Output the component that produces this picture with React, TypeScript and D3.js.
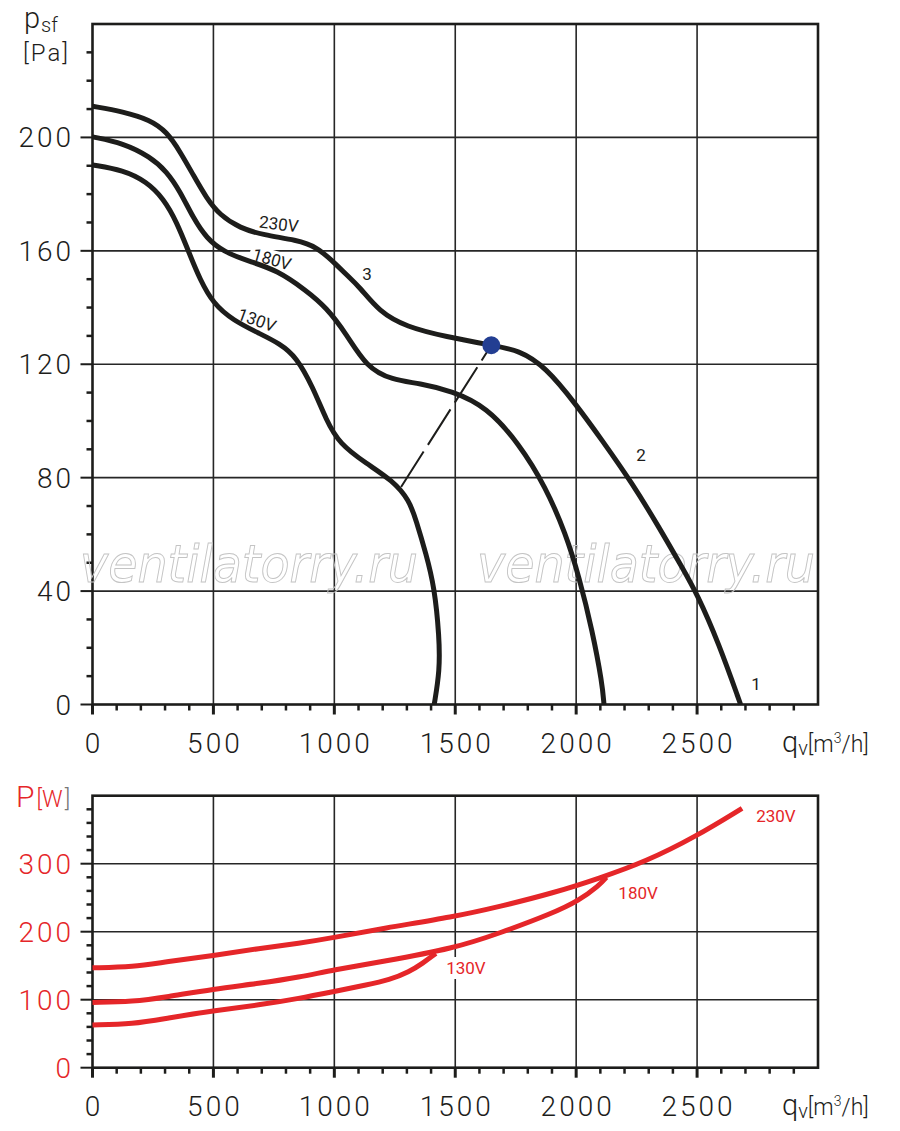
import React, { useEffect, useRef } from 'react';
import * as d3 from 'd3';

// Static pressure curves: q [m3/h] -> psf [Pa]
const q230 = [0, 127, 238, 307, 362, 417, 472, 527, 610, 706, 844, 927, 1010, 1051, 1104, 1186, 1297, 1462, 1649, 1764, 1874, 1998, 2107, 2232, 2342, 2437, 2500, 2590, 2680];
const p230 = [211, 209.1, 206.2, 202, 195, 186.7, 178.5, 172.6, 168, 165.6, 163.8, 161.5, 155, 151.5, 147.3, 138.5, 133.2, 129.7, 126.7, 125, 119, 106, 93.2, 78, 62.6, 48.5, 39, 21.5, 0];

const q180 = [0, 127, 238, 307, 362, 417, 472, 541, 651, 762, 884, 967, 1049, 1132, 1240, 1352, 1488, 1629, 1764, 1874, 1957, 2012, 2067, 2108, 2115];
const p180 = [200.2, 198, 193.2, 188, 181, 171.5, 164.4, 159.7, 156.2, 153.2, 146, 140, 130.8, 119, 114.4, 113.3, 110.5, 105, 92, 76.7, 60.2, 45, 26, 7.3, 0];

const q130 = [0, 127, 224, 293, 348, 403, 444, 499, 581, 691, 774, 843, 911, 967, 1021, 1132, 1241, 1310, 1338, 1379, 1414, 1434, 1436, 1413];
const p130 = [190.3, 188.5, 184.4, 178.5, 170.3, 158.5, 150, 141.4, 135.5, 130.8, 127.3, 122.6, 112, 100.2, 92, 85, 79, 72, 65, 53.2, 41.4, 23.8, 12, 0];

// Power curves: q [m3/h] -> P [W]
const wq230 = [0, 168, 306, 499, 691, 856, 994, 1200, 1496, 1682, 1902, 2095, 2287, 2494, 2686];
const w230 = [147, 148, 156, 164.7, 175.6, 183, 191, 205, 222, 236.8, 256.5, 278.5, 303, 339.7, 381.5];

const wq180 = [0, 168, 306, 499, 691, 856, 994, 1200, 1496, 1682, 1902, 2012, 2095, 2125];
const w180 = [96, 97, 104, 115.7, 124, 133, 143.7, 156, 175.6, 197.6, 227, 246, 268, 280];

const wq130 = [0, 168, 306, 499, 691, 856, 994, 1132, 1228, 1310, 1365, 1420];
const w130 = [62.8, 64, 72.6, 83.8, 92.2, 102, 111.8, 121.6, 129, 141, 153.5, 168];

// working point and dashed system line
const workQ = [1276, 1649];
const workP = [76.7, 126.7];

const qTicks = [0, 500, 1000, 1500, 2000, 2500];
const pTicks = [0, 40, 80, 120, 160, 200];
const wTicks = [0, 100, 200, 300];

const curveLabels = [
  { text: '230V', q: 771, p: 169.5, rot: 7, bg: false },
  { text: '180V', q: 742, p: 157.1, rot: 16, bg: true },
  { text: '130V', q: 680, p: 135.6, rot: 20, bg: false },
  { text: '3', q: 1135, p: 151.8, rot: 0, bg: false },
  { text: '2', q: 2268, p: 88, rot: 0, bg: false },
  { text: '1', q: 2744, p: 7.2, rot: 0, bg: false },
];

const powerLabels = [
  { text: '230V', q: 2826, w: 370, bg: false },
  { text: '180V', q: 2256, w: 257, bg: false },
  { text: '130V', q: 1544, w: 146.6, bg: true },
];

const INK = '#1d1d1b';
const GRID = '#262626';
const RED = '#e52629';
const FONT = 'Roboto, "DejaVu Sans", sans-serif';

const App: React.FC = () => {
  const ref = useRef<SVGSVGElement>(null);

  useEffect(() => {
    if (!ref.current) return;
    const svg = d3.select(ref.current);
    svg.selectAll('*').remove();

    const x = d3.scaleLinear().domain([0, 3000]).range([92.5, 818]);
    const yTop = d3.scaleLinear().domain([0, 240]).range([704.5, 24]);
    const yBot = d3.scaleLinear().domain([0, 400]).range([1067.7, 795.7]);

    const line = (ys: d3.ScaleLinear<number, number>) =>
      d3.line<[number, number]>()
        .x(d => x(d[0]))
        .y(d => ys(d[1]))
        .curve(d3.curveBasis);

    const toPts = (qs: number[], vs: number[]) => qs.map((q, i) => [q, vs[i]] as [number, number]);

    // generic panel: grid, frame, ticks, labels
    const panel = (
      ys: d3.ScaleLinear<number, number>,
      yMax: number,
      yMajor: number[],
      yMinorStep: number,
      labelColor: string
    ) => {
      const g = svg.append('g');
      const [y0, y1] = ys.range();

      // grid
      g.selectAll('.vg')
        .data(qTicks.filter(d => d > 0))
        .join('line')
        .attr('x1', d => x(d)).attr('x2', d => x(d))
        .attr('y1', y0).attr('y2', y1)
        .attr('stroke', GRID).attr('stroke-width', 1.6);
      g.selectAll('.hg')
        .data(yMajor.filter(d => d > 0))
        .join('line')
        .attr('x1', x(0)).attr('x2', x(3000))
        .attr('y1', d => ys(d)).attr('y2', d => ys(d))
        .attr('stroke', GRID).attr('stroke-width', 1.6);

      // minor + major ticks on y
      const yMinor = d3.range(yMinorStep, yMax, yMinorStep).filter(v => !yMajor.includes(v));
      g.selectAll('.ymin')
        .data(yMinor)
        .join('line')
        .attr('x1', x(0) - 6).attr('x2', x(0))
        .attr('y1', d => ys(d)).attr('y2', d => ys(d))
        .attr('stroke', INK).attr('stroke-width', 2.5);
      g.selectAll('.ymaj')
        .data(yMajor)
        .join('line')
        .attr('x1', x(0) - 12).attr('x2', x(0))
        .attr('y1', d => ys(d)).attr('y2', d => ys(d))
        .attr('stroke', INK).attr('stroke-width', 2);

      // ticks on x
      const xMinor = d3.range(100, 3000, 100).filter(v => v % 500 !== 0);
      g.selectAll('.xmin')
        .data(xMinor)
        .join('line')
        .attr('x1', d => x(d)).attr('x2', d => x(d))
        .attr('y1', y0).attr('y2', y0 + 6)
        .attr('stroke', INK).attr('stroke-width', 2.5);
      g.selectAll('.xmaj')
        .data(qTicks)
        .join('line')
        .attr('x1', d => x(d)).attr('x2', d => x(d))
        .attr('y1', y0).attr('y2', y0 + 10)
        .attr('stroke', INK).attr('stroke-width', 3);

      // frame
      g.append('rect')
        .attr('x', x(0)).attr('y', y1)
        .attr('width', x(3000) - x(0)).attr('height', y0 - y1)
        .attr('fill', 'none').attr('stroke', INK).attr('stroke-width', 2.6);

      // tick labels
      g.selectAll('.ylab')
        .data(yMajor)
        .join('text')
        .attr('x', 74)
        .attr('y', d => ys(d) + 10)
        .attr('text-anchor', 'end')
        .style('font-family', FONT)
        .style('font-weight', 300)
        .style('font-size', '28px')
        .style('letter-spacing', '3px')
        .attr('fill', labelColor)
        .text(d => d);
      g.selectAll('.xlab')
        .data(qTicks)
        .join('text')
        .attr('x', d => x(d) + 1.5)
        .attr('y', y0 + 48)
        .attr('text-anchor', 'middle')
        .style('font-family', FONT)
        .style('font-weight', 300)
        .style('font-size', '28px')
        .style('letter-spacing', '3px')
        .attr('fill', INK)
        .text(d => d);

      // q axis title
      const qt = g.append('text')
        .attr('x', 782).attr('y', y0 + 47)
        .style('font-family', FONT)
        .style('font-weight', 300)
        .attr('fill', INK);
      qt.append('tspan').style('font-size', '29px').text('q');
      qt.append('tspan').style('font-size', '20px').attr('dy', 3).text('v');
      qt.append('tspan').style('font-size', '23px').attr('dy', -3).text('[m');
      qt.append('tspan').style('font-size', '14px').attr('dy', -9).text('3');
      qt.append('tspan').style('font-size', '23px').attr('dy', 9).text('/h]');

      return g;
    };

    // ---------- top: pressure ----------
    const top = panel(yTop, 240, pTicks, 10, INK);

    // watermark
    [80, 477].forEach(sx => {
      top.append('text')
        .attr('x', sx).attr('y', 582)
        .attr('textLength', 338)
        .attr('lengthAdjust', 'spacingAndGlyphs')
        .style('font-family', '"DejaVu Sans", sans-serif')
        .style('font-style', 'italic')
        .style('font-size', '52px')
        .attr('fill', 'none')
        .attr('stroke', '#c4c4c4')
        .attr('stroke-width', 1)
        .text('ventilatorry.ru');
    });

    // white boxes that break the grid under some labels (drawn below the curves)
    curveLabels.filter(l => l.bg).forEach(l => {
      top.append('rect')
        .attr('transform', `translate(${x(l.q)},${yTop(l.p)}) rotate(${l.rot})`)
        .attr('x', -23).attr('y', -9).attr('width', 46).attr('height', 18)
        .attr('fill', '#fff');
    });

    const pCurves: [number[], number[]][] = [[q230, p230], [q180, p180], [q130, p130]];
    top.selectAll('.pc')
      .data(pCurves)
      .join('path')
      .attr('d', d => line(yTop)(toPts(d[0], d[1])))
      .attr('fill', 'none')
      .attr('stroke', INK)
      .attr('stroke-width', 5)
      .attr('stroke-linejoin', 'round');

    // system line and working point
    top.append('line')
      .attr('x1', x(workQ[0])).attr('y1', yTop(workP[0]))
      .attr('x2', x(workQ[1])).attr('y2', yTop(workP[1]))
      .attr('stroke', INK).attr('stroke-width', 2)
      .attr('stroke-dasharray', '42,8');
    top.append('circle')
      .attr('cx', x(workQ[1])).attr('cy', yTop(workP[1]))
      .attr('r', 9)
      .attr('fill', '#233e92');

    // curve labels
    curveLabels.forEach(l => {
      top.append('text')
        .attr('transform', `translate(${x(l.q)},${yTop(l.p)}) rotate(${l.rot})`)
        .attr('text-anchor', 'middle')
        .attr('dy', '0.36em')
        .style('font-family', FONT)
        .style('font-size', '17px')
        .attr('fill', INK)
        .text(l.text);
    });

    // p axis title
    const pt = top.append('text')
      .attr('x', 24).attr('y', 28)
      .style('font-family', FONT)
      .style('font-weight', 300)
      .attr('fill', INK);
    pt.append('tspan').style('font-size', '29px').text('p');
    pt.append('tspan').style('font-size', '20px').attr('dy', 4).attr('dx', 1).text('sf');
    top.append('text')
      .attr('x', 23).attr('y', 61)
      .style('font-family', FONT)
      .style('font-weight', 300)
      .style('font-size', '24px')
      .style('letter-spacing', '2px')
      .attr('fill', INK)
      .text('[Pa]');

    // ---------- bottom: power ----------
    const bot = panel(yBot, 400, wTicks, 20, RED);

    powerLabels.filter(l => l.bg).forEach(l => {
      bot.append('rect')
        .attr('transform', `translate(${x(l.q)},${yBot(l.w)})`)
        .attr('x', -22).attr('y', -11).attr('width', 44).attr('height', 22)
        .attr('fill', '#fff');
    });

    const wCurves: [number[], number[]][] = [[wq230, w230], [wq180, w180], [wq130, w130]];
    bot.selectAll('.wc')
      .data(wCurves)
      .join('path')
      .attr('d', d => line(yBot)(toPts(d[0], d[1])))
      .attr('fill', 'none')
      .attr('stroke', RED)
      .attr('stroke-width', 5)
      .attr('stroke-linejoin', 'round');

    powerLabels.forEach(l => {
      bot.append('text')
        .attr('transform', `translate(${x(l.q)},${yBot(l.w)})`)
        .attr('text-anchor', 'middle')
        .attr('dy', '0.36em')
        .style('font-family', FONT)
        .style('font-size', '17px')
        .attr('fill', RED)
        .text(l.text);
    });

    const wt = bot.append('text')
      .attr('x', 16).attr('y', 807)
      .style('font-family', FONT)
      .style('font-weight', 300)
      .attr('fill', RED);
    wt.append('tspan').style('font-size', '30px').text('P');
    wt.append('tspan').style('font-size', '23px').attr('dx', 2).text('[W');
    wt.append('tspan').style('font-size', '23px').attr('dx', 2).attr('fill', '#777').text(']');
  }, []);

  return (
    <svg
      ref={ref}
      width={900}
      height={1131}
      style={{ position: 'absolute', left: 0, top: 0, background: '#fff' }}
    />
  );
};

export default App;
